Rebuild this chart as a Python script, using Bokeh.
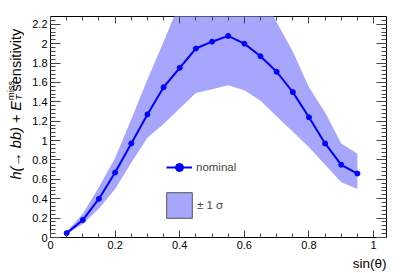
import math
from bokeh.plotting import figure
from bokeh.layouts import row
from bokeh.models import (Range1d, LinearAxis, SingleIntervalTicker, NumeralTickFormatter,
                          Legend, LegendItem, Label, Title)
from bokeh.embed import file_html
from bokeh.resources import INLINE

# ---- data ----
sin_theta = [0.05, 0.10, 0.15, 0.20, 0.25, 0.30, 0.35, 0.40, 0.45, 0.50,
             0.55, 0.60, 0.65, 0.70, 0.75, 0.80, 0.85, 0.90, 0.95]
nominal = [0.045, 0.18, 0.40, 0.67, 0.97, 1.27, 1.55, 1.75, 1.95, 2.02,
           2.08, 2.00, 1.87, 1.71, 1.50, 1.24, 0.97, 0.75, 0.66]
band_low = [0.035, 0.14, 0.30, 0.50, 0.77, 1.03, 1.17, 1.33, 1.49, 1.53,
            1.57, 1.52, 1.41, 1.25, 1.09, 0.93, 0.75, 0.57, 0.50]
band_high = [0.06, 0.245, 0.52, 0.82, 1.22, 1.63, 2.02, 2.42, 2.60, 2.70,
             2.75, 2.70, 2.55, 2.22, 1.92, 1.55, 1.29, 0.97, 0.865]

legend_nominal = "nominal"
legend_band = "± 1 σ"
x_title = "sin(θ)"
y_title_main = "h(→ bb) + E"
y_title_sup = "miss"
y_title_sub = "T"
y_title_tail = "sensitivity"

X0, X1 = 0.0, 1.04
Y0, Y1 = 0.0, 2.28

BAND = "#a6a6fc"
LINE = "#0000ff"
FONT = "Liberation Sans"

TOTAL_W, H = 402, 273
SW = 24                      # strip holding the y title
W = TOTAL_W - SW
BL, BR, BT, BB = 50 - SW, 16, 16, 36

p = figure(width=W, height=H, x_range=Range1d(X0, X1), y_range=Range1d(Y0, Y1),
           output_backend="svg", toolbar_location=None,
           min_border_left=BL, min_border_right=BR, min_border_top=BT, min_border_bottom=BB,
           x_axis_type=None, y_axis_type=None)
p.title.visible = False
p.outline_line_color = "black"
p.outline_line_width = 1
p.background_fill_color = "white"
p.border_fill_color = "white"


def mk_axis(interval, nminor, tin, tmin, labels, standoff):
    return LinearAxis(
        ticker=SingleIntervalTicker(interval=interval, num_minor_ticks=nminor),
        formatter=NumeralTickFormatter(format="0.[0]"),
        major_tick_in=tin, major_tick_out=0, minor_tick_in=tmin, minor_tick_out=0,
        axis_line_color=None, major_tick_line_color="#444", minor_tick_line_color="#444",
        major_label_text_font=FONT,
        major_label_text_font_size="11px" if labels else "1px",
        major_label_text_color="black" if labels else None,
        major_label_standoff=standoff if labels else 0,
    )

p.add_layout(mk_axis(0.2, 4, 7, 4, True, 3), "below")
p.add_layout(mk_axis(0.2, 4, 7, 4, False, 0), "above")
p.add_layout(mk_axis(0.2, 5, 10, 5, True, 3), "left")
p.add_layout(mk_axis(0.2, 5, 10, 5, False, 0), "right")

p.add_layout(Title(text=x_title, align="right", text_font=FONT, text_font_size="13.5px",
                   text_font_style="normal", text_color="black", standoff=4), "below")

# band, line, markers
p.varea(x=sin_theta, y1=band_low, y2=band_high, fill_color=BAND, fill_alpha=1.0)
r_line = p.line(sin_theta, nominal, line_color=LINE, line_width=2)
r_pts = p.scatter(sin_theta, nominal, marker="circle", size=5, fill_color=LINE, line_color=LINE)
nan = float("nan")
r_box = p.quad(left=[nan], right=[nan], top=[nan], bottom=[nan],
               fill_color=BAND, line_color="#555555", line_width=1)

leg1 = Legend(items=[LegendItem(label=legend_nominal, renderers=[r_line, r_pts])],
              location=(116, 60), glyph_width=26, glyph_height=20, label_standoff=4,
              padding=0, margin=0, spacing=0, border_line_color=None, background_fill_alpha=0,
              label_text_font=FONT, label_text_font_size="11.5px", label_height=20)
leg2 = Legend(items=[LegendItem(label=legend_band, renderers=[r_box])],
              location=(113, 16), glyph_width=32, glyph_height=32, label_standoff=2,
              padding=0, margin=0, spacing=0, border_line_color=None, background_fill_alpha=0,
              label_text_font=FONT, label_text_font_size="11.5px", label_height=20)
p.add_layout(leg1, "center")
p.add_layout(leg2, "center")

# ---- strip on the left for the y title (its coordinates are page pixels) ----
s = figure(width=SW, height=H, x_range=Range1d(0, SW), y_range=Range1d(H, 0),
           output_backend="svg", toolbar_location=None,
           min_border_left=0, min_border_right=0, min_border_top=0, min_border_bottom=0,
           x_axis_type=None, y_axis_type=None)
s.title.visible = False
s.outline_line_color = None
s.background_fill_color = "white"
s.border_fill_color = "white"

base_x = 15.5
a = math.pi / 2
FS, FS_SMALL = 14.5, 9.5
top_end = 15.0
tail_len = 4.334 * FS          # "sensitivity" advance (Liberation Sans metrics)
space = 0.278 * FS + 2.0
sup_len = 2.055 * FS_SMALL     # "miss"
sup_end = top_end + tail_len + space
sup_start = sup_end + sup_len


def lab(x, y, text, size, style="normal", align="left"):
    s.add_layout(Label(x=x, y=y, angle=a, text=text, text_font=FONT,
                       text_font_size=f"{size}px", text_font_style=style,
                       text_align=align, text_baseline="alphabetic", text_color="black"))


lab(base_x, top_end, y_title_tail, FS, align="right")
lab(base_x - 5.5, sup_start, y_title_sup, FS_SMALL)
lab(base_x + 2.5, sup_start, y_title_sub, FS_SMALL, style="italic")
lab(base_x, sup_start + 1.0, y_title_main, FS, style="italic", align="right")

layout = row(s, p, spacing=0)
open("out.html", "w").write(file_html(layout, INLINE))
